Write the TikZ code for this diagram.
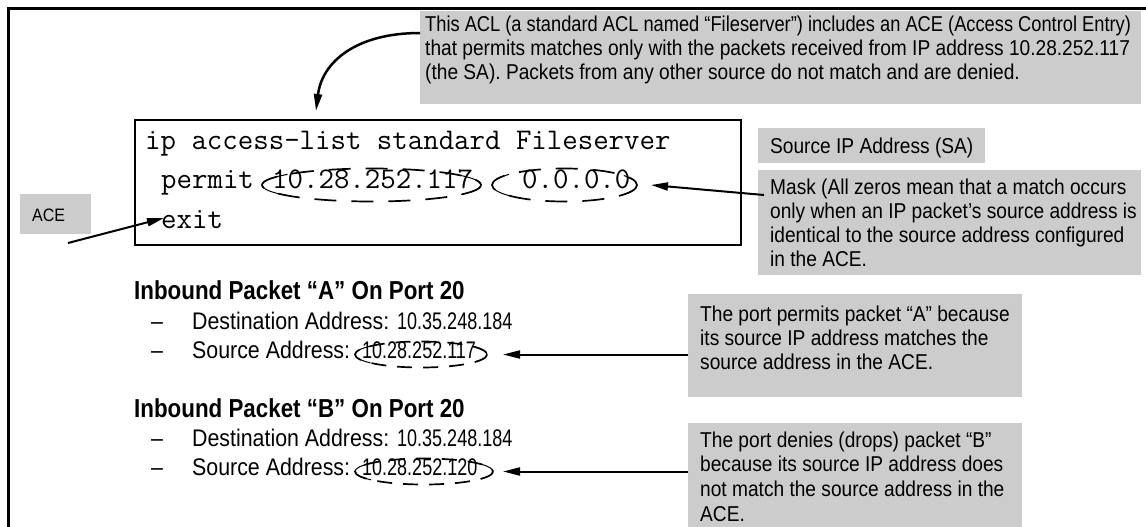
\documentclass[tikz,border=0pt]{standalone}
\usepackage{fontspec}
\usepackage{graphicx}
\setmainfont{Liberation Sans}[FakeStretch=0.89]
\newfontfamily\headfont{Liberation Sans}[FakeStretch=0.86]
\newfontfamily\numfont{Liberation Sans}[FakeStretch=0.75]
\usetikzlibrary{arrows.meta,calc}
\definecolor{calloutgray}{RGB}{204,204,204}
% fixes the top of a multi-line note 18pt above its first baseline
\newcommand\firstline{\rule{0pt}{18pt}}
% dashed oval round an address: cx, cy, rx, ry, dash style
\newcommand\ovalmark[5]{%
  \draw[#5] (#1,#2) ellipse[x radius=#3, y radius=#4];
  \draw[ovalend] ({#1+#3*cos(140)},{#2+#4*sin(140)})
    arc[start angle=140, end angle=220, x radius=#3, y radius=#4];
  \draw[ovalend] ({#1+#3*cos(-35)},{#2+#4*sin(-35)})
    arc[start angle=-35, end angle=35, x radius=#3, y radius=#4];}

\begin{document}
\begin{tikzpicture}[x=1pt,y=-1pt,
  frame/.style={line width=3pt},
  cfg/.style={draw, line width=2pt, inner sep=0pt, anchor=north west},
  shade/.style={fill=calloutgray, draw=none, inner sep=0pt, anchor=north west},
  note/.style={inner sep=0pt, anchor=north west, align=left,
    font=\fontsize{21.5}{24}\selectfont},
  code/.style={inner sep=0pt, anchor=base west,
    font=\fontsize{30}{30}\selectfont\ttfamily},
  head/.style={inner sep=0pt, anchor=base west,
    font=\fontsize{26}{26}\selectfont\headfont\bfseries},
  body/.style={inner sep=0pt, anchor=base west,
    font=\fontsize{24}{26}\selectfont},
  pointer/.style={line width=2pt, -{Triangle[length=17pt,width=8pt]}},
  codedash/.style={line width=1.7pt, dash pattern=on 22pt off 15pt},
  pktdash/.style={line width=1.7pt, dash pattern=on 15pt off 11pt},
  ovalend/.style={line width=1pt},
]
\useasboundingbox (0,0) rectangle (1146,527);

% outer frame, open at the right and bottom
\draw[frame] (8,540) |- (1160,9);

% grey callout boxes
\node[shade, minimum width=721pt, minimum height=93pt]  (aclbox)    at (420,11)  {};
\node[shade, minimum width=227pt, minimum height=35pt]  (srcbox)    at (758,128) {};
\node[shade, minimum width=383pt, minimum height=105pt] (maskbox)   at (758,170) {};
\node[shade, minimum width=71pt,  minimum height=40pt]  (acebox)    at (20,194)  {};
\node[shade, minimum width=334pt, minimum height=103pt] (permitbox) at (688,294) {};
\node[shade, minimum width=334pt, minimum height=120pt] (denybox)   at (688,423) {};

% callout texts
\node[note] (aclnote) at (425,13) {\firstline\scalebox{0.955}[1]{This ACL (a standard ACL named “Fileserver”) includes an ACE (Access Control Entry)}\\
  that permits matches only with the packets received from IP address 10.28.252.117\\
  (the SA). Packets from any other source do not match and are denied.};
\node[note] (srcnote) at (770,135) {\firstline Source IP Address (SA)};
\node[note] (masknote) at (770,176) {\firstline Mask (All zeros mean that a match occurs\\
  only when an IP packet’s source address is\\
  identical to the source address configured\\
  in the ACE.};
\node[inner sep=0pt, anchor=base west, font=\fontsize{18}{18}\selectfont] (acenote) at (32,221) {ACE};
\node[note] (permitnote) at (700,303) {\firstline The port permits packet “A” because\\
  its source IP address matches the\\
  source address in the ACE.};
\node[note, font=\fontsize{21.5}{24.7}\selectfont] (denynote) at (700,429) {\firstline The port denies (drops) packet “B”\\
  because its source IP address does\\
  not match the source address in the\\
  ACE.};

% configuration listing
\node[cfg, minimum width=606pt, minimum height=125pt] (cfgbox) at (134,119) {};
\node[code] (cl1)  at (145,149)   {ip access-list standard Fileserver};
\node[code] (cl2)  at (161,188.5) {permit};
\node[code] (sa)   at (272,188.5) {10.28.252.117};
\node[code] (wild) at (522,188.5) {0.0.0.0};
\node[code] (cl3)  at (161,228)   {exit};
\ovalmark{371.5}{185}{109.5}{16.5}{codedash}
\ovalmark{564.5}{185}{72.5}{16.5}{codedash}

% inbound packet A
\node[head] (headA) at (134,299) {Inbound Packet “A” On Port 20};
\node[body] (dashA1) at (151,329) {–};
\node[body] (destA)  at (192,329) {Destination Address: {\numfont 10.35.248.184}};
\node[body] (dashA2) at (151,358) {–};
\node[body] (srcA)   at (192,358) {Source Address:};
\node[body] (ipA)    at (362,358) {\numfont 10.28.252.117};
\ovalmark{421}{354.5}{66}{13}{pktdash}

% inbound packet B
\node[head] (headB) at (134,417) {Inbound Packet “B” On Port 20};
\node[body] (dashB1) at (151,446) {–};
\node[body] (destB)  at (192,446) {Destination Address: {\numfont 10.35.248.184}};
\node[body] (dashB2) at (151,475) {–};
\node[body] (srcB)   at (192,475) {Source Address:};
\node[body] (ipB)    at (362,475) {\numfont 10.28.252.120};
\ovalmark{424}{471.5}{69}{13}{pktdash}

% arrow ends
\coordinate (acetail) at (68,243);
\coordinate (wildtip) at (651,185);
\coordinate (tipA) at (503,354.5);
\coordinate (tipB) at (503,471.5);

% connectors
\draw[pointer, line width=2.5pt] ($(aclbox.north west)+(0,22)$)
  .. controls +(-64,0) and +(6,-49) .. ($(cfgbox.north west)+(182,-8)$);
\draw[pointer] ($(maskbox.north west)+(6,25)$) -- (wildtip);
\draw[pointer] (acetail) -- ($(cl3.base west)+(3,-10)$);
\draw[pointer] ($(permitbox.north west)+(0,60.5)$) -- (tipA);
\draw[pointer] ($(denybox.north west)+(0,48.5)$) -- (tipB);
\end{tikzpicture}
\end{document}
